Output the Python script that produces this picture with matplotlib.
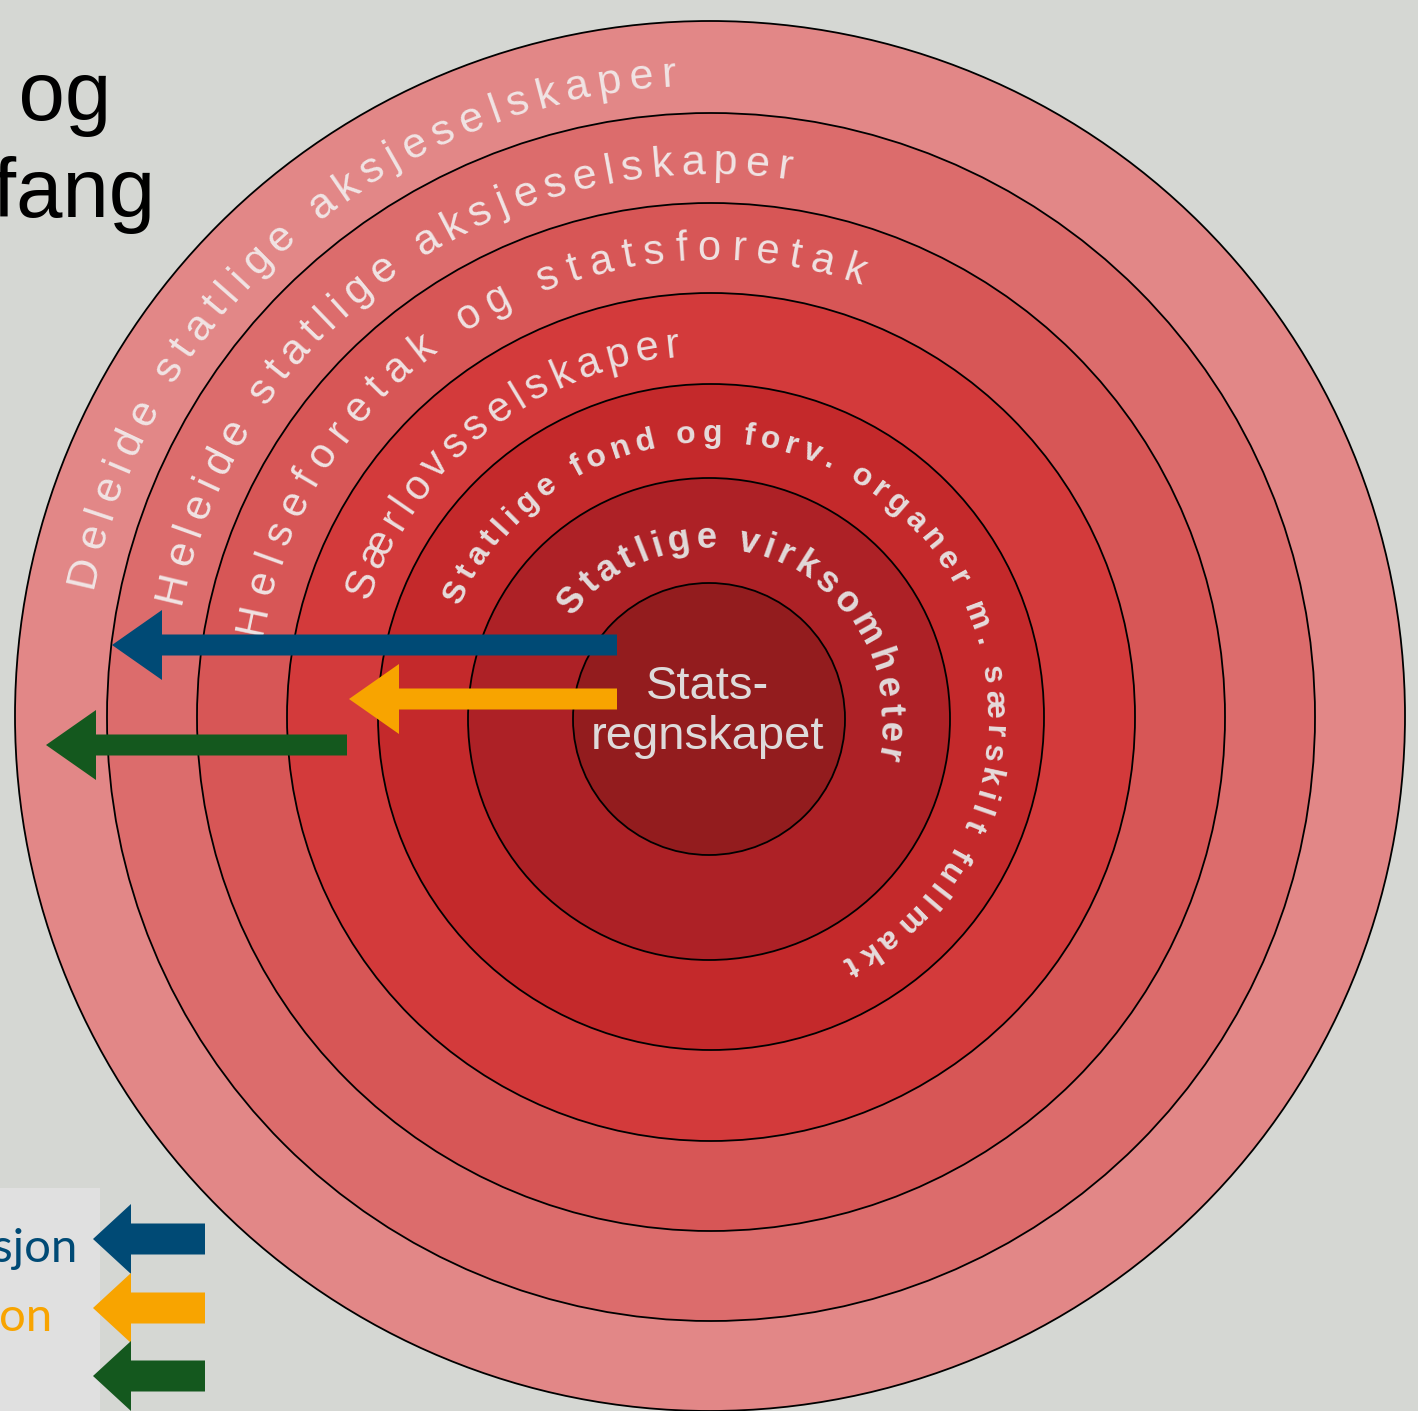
import numpy as np
import matplotlib
matplotlib.use("Agg")
import matplotlib.pyplot as plt
from matplotlib.patches import Circle, Polygon, Rectangle
from matplotlib.font_manager import FontProperties

# --- DATA ---
W, H = 1418, 1411
BG = '#d5d7d3'

# rings, outermost first (pixel coords, y from top)
ring_cx = [710, 711, 711, 711, 711, 709, 709]
ring_cy = [716, 717, 717, 717, 717, 719, 719]
ring_r = [695, 604, 514, 424, 333, 241, 136]
ring_colors = ['#e28787', '#dc6c6c', '#d75656', '#d33a3b', '#c4292b', '#ad2126', '#931c1e']

ring_labels = ['Deleide statlige aksjeselskaper',
               'Heleide statlige aksjeselskaper',
               'Helseforetak og statsforetak',
               'Særlovsselskaper',
               'Statlige fond og forv. organer m. særskilt fullmakt',
               'Statlige virksomheter']
label_r = [631, 543, 457, 362, 275, 171]          # baseline radius
label_start = [167.0, 166.5, 167.9, 159.2, 153.9, 139.0]   # deg, first char
label_end = [93.7, 82.4, 72.2, 96.0, -60.7, -11.4]         # deg, last char
label_size = [31, 31, 30, 30, 23, 26]
label_weight = ['normal', 'normal', 'normal', 'normal', 'bold', 'bold']
label_color = ['#f1e4e4', '#f1e4e4', '#f0e2e2', '#ecdede', '#e6dcdc', '#e2dada']

center_text = 'Stats-\nregnskapet'

# arrows inside the chart: tail x, tip x, y
arrow_tail = [617, 617, 347]
arrow_tip = [112, 349, 46]
arrow_y = [645, 699, 745]
arrow_colors = ['#004a75', '#f8a400', '#14581e']

# legend
legend_labels = ['Konsolidasjon', 'Integrasjon', 'Eierskap']
legend_text_right = [78, 53, -10]
legend_y = [1239, 1308, 1376]

title_lines = ['Konsolidering og', 'rapporteringsomfang']


def char_width(renderer, ch, fp):
    w1 = renderer.get_text_width_height_descent('n' + ch + 'n', fp, ismath=False)[0]
    w0 = renderer.get_text_width_height_descent('nn', fp, ismath=False)[0]
    return w1 - w0


def arc_text(ax, renderer, text, cx, cy, r, a0, a1, size, weight, color):
    # one text per character, spread along the arc from angle a0 to a1
    fp = FontProperties(family='Liberation Sans', size=size, weight=weight)
    widths = np.array([char_width(renderer, c, fp) for c in text])
    base = np.concatenate([[0], np.cumsum(widths[:-1])]) + widths / 2 - widths[0] / 2
    span = np.radians(a0 - a1) * r
    gap = (span - base[-1]) / (len(text) - 1)
    s = base + gap * np.arange(len(text))
    for ch, si in zip(text, s):
        th = np.radians(a0) - si / r
        x = cx + r * np.cos(th)
        y = cy - r * np.sin(th)
        ax.text(x, y, ch, rotation=np.degrees(th) - 90, rotation_mode='anchor',
                ha='center', va='baseline', fontproperties=fp, color=color)


def arrow(ax, tail, tip, y, color, head_len, head_half, shaft_half):
    hb = tip + head_len
    pts = [(tip, y), (hb, y - head_half), (hb, y - shaft_half), (tail, y - shaft_half),
           (tail, y + shaft_half), (hb, y + shaft_half), (hb, y + head_half)]
    ax.add_patch(Polygon(pts, closed=True, facecolor=color, edgecolor='none', zorder=5))


fig = plt.figure(figsize=(W / 100, H / 100), dpi=100, facecolor=BG)
ax = fig.add_axes([0, 0, 1, 1])
ax.set_xlim(0, W)
ax.set_ylim(H, 0)
ax.axis('off')
renderer = fig.canvas.get_renderer()

# --- rings ---
for cx, cy, r, c in zip(ring_cx, ring_cy, ring_r, ring_colors):
    ax.add_patch(Circle((cx, cy), r, facecolor=c, edgecolor='black', lw=1.3, zorder=1))

for i, txt in enumerate(ring_labels):
    arc_text(ax, renderer, txt, ring_cx[i], ring_cy[i], label_r[i],
             label_start[i], label_end[i], label_size[i], label_weight[i], label_color[i])

ax.text(708, 712, center_text, ha='center', va='center', fontsize=34,
        family='Liberation Sans', color='#dedada', linespacing=1.15, zorder=4)

# --- arrows ---
for t0, t1, y, c in zip(arrow_tail, arrow_tip, arrow_y, arrow_colors):
    arrow(ax, t0, t1, y, c, 50, 35, 10.5)

# --- title (cut at the left edge, as in the original) ---
ax.text(111, 120, title_lines[0], ha='right', va='baseline', fontsize=60,
        family='Liberation Sans', color='black')
ax.text(156, 217, title_lines[1], ha='right', va='baseline', fontsize=60,
        family='Liberation Sans', color='black')

# --- legend box ---
ax.add_patch(Rectangle((0, 1188), 100, H - 1188, facecolor='#e0e0e0', edgecolor='none', zorder=2))
for lab, xr, y, c in zip(legend_labels, legend_text_right, legend_y, arrow_colors):
    ax.text(xr, y + 23, lab, ha='right', va='baseline', fontsize=34,
            family='Lato', color=c, zorder=3)
    arrow(ax, 205, 93, y, c, 38, 35, 15.5)

fig.savefig('out.png', dpi=100, facecolor=BG)
